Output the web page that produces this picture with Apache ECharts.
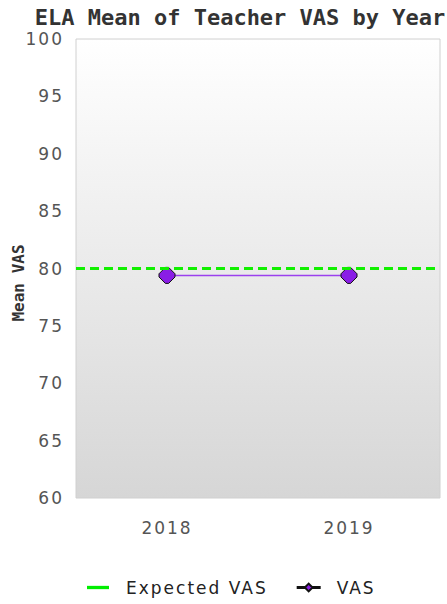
<!DOCTYPE html>
<html><head><meta charset="utf-8">
<script src="https://cdn.jsdelivr.net/npm/echarts@6/dist/echarts.min.js"></script>
<style>html,body{margin:0;padding:0;background:#fff}#c{width:447px;height:604px}
#c text{letter-spacing:2px}
#c text[style*="Mono"],#c text[font-family*="Mono"]{letter-spacing:0}</style>
</head><body><div id="c"></div>
<script>
const years = ['2018', '2019'];
const vas = [79.4, 79.4];
const expectedVas = 80;
const yTicks = [60, 65, 70, 75, 80, 85, 90, 95, 100];

const chart = echarts.init(document.getElementById('c'), null, { renderer: 'svg' });
chart.setOption({
  animation: false,
  title: {
    text: 'ELA Mean of Teacher VAS by Year',
    left: 235, top: 1, textAlign: 'center',
    textStyle: { fontFamily: 'DejaVu Sans Mono', fontWeight: 'bold', fontSize: 22, color: '#333' }
  },
  graphic: [{
    type: 'text', x: 18, y: 283, rotation: Math.PI / 2,
    style: {
      text: 'Mean VAS', fontFamily: 'DejaVu Sans Mono', fontWeight: 'bold', fontSize: 16,
      fill: '#333', align: 'center', verticalAlign: 'middle'
    }
  }],
  grid: {
    left: 76, right: 7, top: 39, bottom: 106, show: true,
    borderColor: '#d0d0d0', borderWidth: 1,
    backgroundColor: new echarts.graphic.LinearGradient(0, 0, 0, 1, [
      { offset: 0, color: '#ffffff' }, { offset: 1, color: '#d6d6d6' }
    ])
  },
  legend: {
    bottom: 3, left: 82, itemGap: 53, itemWidth: 22, itemHeight: 10,
    textStyle: { fontFamily: 'DejaVu Sans', fontSize: 17, color: '#222', padding: [0, 0, 0, 12] },
    data: [
      { name: 'Expected VAS', icon: 'path://M0,4 L20,4 L20,7 L0,7 Z' },
      { name: 'VAS', icon: 'path://M0,4.5 L7,4.5 L10,1.5 L13,4.5 L20,4.5 L20,5.5 L13,5.5 L10,8.5 L7,5.5 L0,5.5 Z' }
    ]
  },
  xAxis: {
    type: 'category', data: years, boundaryGap: true,
    axisLine: { show: false }, axisTick: { show: false },
    axisLabel: { margin: 21, fontFamily: 'DejaVu Sans', fontSize: 17, color: '#555' }
  },
  yAxis: {
    type: 'value', min: yTicks[0], max: yTicks[yTicks.length - 1], interval: 5,
    axisLine: { show: false }, axisTick: { show: false }, splitLine: { show: false },
    axisLabel: { margin: 12, fontFamily: 'DejaVu Sans', fontSize: 17, color: '#555' }
  },
  series: [
    {
      name: 'Expected VAS', type: 'line', data: [], symbol: 'none',
      itemStyle: { color: '#00ee00' },
      lineStyle: { color: '#00ee00' },
      markLine: {
        silent: true, symbol: 'none', label: { show: false },
        lineStyle: { color: '#11f000', width: 3, type: [9, 5] },
        data: [{ yAxis: expectedVas }]
      }
    },
    {
      name: 'VAS', type: 'line', data: vas,
      symbol: 'path://M4,0 L6,0 L10,4 L10,6 L6,10 L4,10 L0,6 L0,4 Z', symbolSize: 16,
      itemStyle: { color: '#8a1ee6', borderColor: '#111', borderWidth: 1 },
      lineStyle: { color: '#9b40ee', width: 1.5 }
    }
  ]
});
</script></body></html>
